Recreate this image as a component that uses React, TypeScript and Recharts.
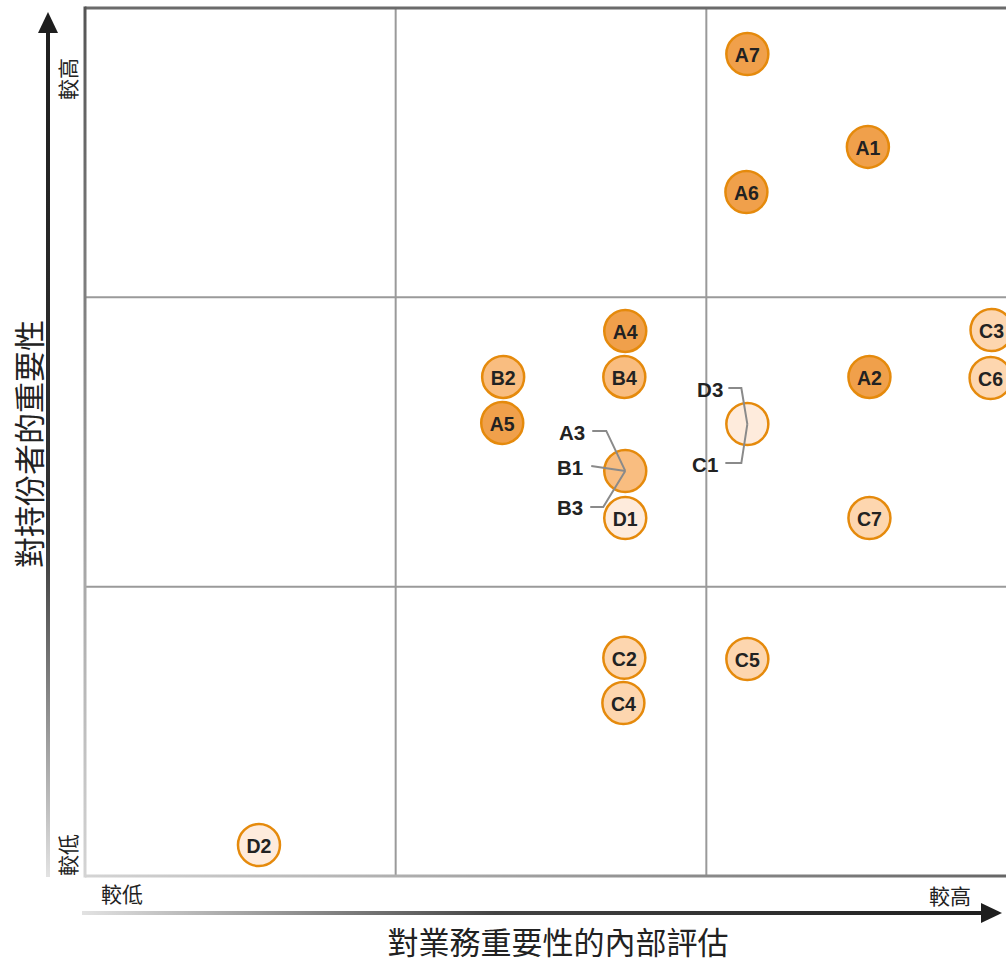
import React from 'react'
import { ScatterChart, Scatter, XAxis, YAxis, ReferenceLine } from 'recharts'

// bubble positions, both axes run 0..3 (three bands each)
const seriesA = [
  { id: 'A1', x: 2.52, y: 2.52 },
  { id: 'A2', x: 2.525, y: 1.725 },
  { id: 'A4', x: 1.739, y: 1.884 },
  { id: 'A5', x: 1.343, y: 1.566 },
  { id: 'A6', x: 2.129, y: 2.364 },
  { id: 'A7', x: 2.132, y: 2.841 },
]
const seriesB = [
  { id: 'B2', x: 1.346, y: 1.725 },
  { id: 'B4', x: 1.736, y: 1.725 },
]
const seriesC = [
  { id: 'C2', x: 1.736, y: 0.754 },
  { id: 'C3', x: 2.918, y: 1.887 },
  { id: 'C4', x: 1.733, y: 0.598 },
  { id: 'C5', x: 2.132, y: 0.75 },
  { id: 'C6', x: 2.915, y: 1.721 },
  { id: 'C7', x: 2.525, y: 1.237 },
]
const seriesD = [
  { id: 'D1', x: 1.739, y: 1.237 },
  { id: 'D2', x: 0.56, y: 0.107 },
]
// overlapping items share one bubble with callout labels
const clusterB = [{ ids: ['A3', 'B1', 'B3'], x: 1.739, y: 1.4 }]
const clusterD = [{ ids: ['D3', 'C1'], x: 2.132, y: 1.562 }]

const gridX = [1, 2]
const gridY = [1, 2]
const xEndLabels = ['較低', '較高']
const yEndLabels = ['較低', '較高']
const xTitle = '對業務重要性的內部評估'
const yTitle = '對持份者的重要性'

const COLORS = { A: '#f0a04b', B: '#f9bd80', C: '#fdd6af', D: '#feebdc' }
const STROKE = '#e58a0c'
const LABEL_FONT = '"Liberation Sans", Arial, sans-serif'
const CJK_FONT = '"Noto Sans CJK TC", "Noto Sans", sans-serif'

const W = 1030
const H = 962
const M = { top: 8, right: 13, left: 85, bottom: 86 }
const plotL = M.left
const plotR = W - M.right
const plotT = M.top
const plotB = H - M.bottom

// callout offsets relative to the bubble centre
const LEADERS: Record<string, { pts: number[][]; tx: number; ty: number }> = {
  A3: { pts: [[-33, -40], [-19, -40], [0, 0]], tx: -40, ty: -39 },
  B1: { pts: [[-34, -5], [0, 0]], tx: -42, ty: -4 },
  B3: { pts: [[-35, 36], [-22, 36], [0, 0]], tx: -42, ty: 36 },
  D3: { pts: [[-19, -36], [-6, -36], [0, 0]], tx: -24, ty: -36 },
  C1: { pts: [[-22, 39], [-6, 39], [0, 0]], tx: -29, ty: 39 },
}

function Bubble(props: any) {
  const { cx, cy, payload, fill } = props
  if (cx == null || cy == null) return null
  return (
    <g>
      <circle cx={cx} cy={cy} r={21} fill={fill} stroke={STROKE} strokeWidth={2.5} />
      <text
        x={cx}
        y={cy + 1}
        textAnchor="middle"
        dominantBaseline="central"
        fontFamily={LABEL_FONT}
        fontWeight="bold"
        fontSize={19.5}
        fill="#222"
      >
        {payload.id}
      </text>
    </g>
  )
}

function ClusterBubble(props: any) {
  const { cx, cy, payload, fill } = props
  if (cx == null || cy == null) return null
  return (
    <g>
      <circle cx={cx} cy={cy} r={21} fill={fill} stroke={STROKE} strokeWidth={2.5} />
      {payload.ids.map((id: string) => {
        const l = LEADERS[id]
        return (
          <g key={id}>
            <polyline
              points={l.pts.map((p) => `${cx + p[0]},${cy + p[1]}`).join(' ')}
              fill="none"
              stroke="#8a8a8a"
              strokeWidth={2}
            />
            <text
              x={cx + l.tx}
              y={cy + l.ty + 1}
              textAnchor="end"
              dominantBaseline="central"
              fontFamily={LABEL_FONT}
              fontWeight="bold"
              fontSize={20.5}
              fill="#222"
            >
              {id}
            </text>
          </g>
        )
      })}
    </g>
  )
}

function Decor() {
  const ax = 48
  const ay = 913
  return (
    <svg width={W} height={H} style={{ position: 'absolute', left: 0, top: 0 }}>
      <defs>
        <linearGradient id="gV" gradientUnits="userSpaceOnUse" x1={0} y1={plotT} x2={0} y2={plotB}>
          <stop offset="0" stopColor="#555" />
          <stop offset="1" stopColor="#d4d4d4" />
        </linearGradient>
        <linearGradient id="gH" gradientUnits="userSpaceOnUse" x1={plotL} y1={0} x2={1006} y2={0}>
          <stop offset="0" stopColor="#d4d4d4" />
          <stop offset="1" stopColor="#666" />
        </linearGradient>
        <linearGradient id="aV" gradientUnits="userSpaceOnUse" x1={0} y1={14} x2={0} y2={plotB}>
          <stop offset="0" stopColor="#1e1e1e" />
          <stop offset="0.6" stopColor="#333" />
          <stop offset="1" stopColor="#e2e2e2" />
        </linearGradient>
        <linearGradient id="aH" gradientUnits="userSpaceOnUse" x1={82} y1={0} x2={1000} y2={0}>
          <stop offset="0" stopColor="#e2e2e2" />
          <stop offset="0.45" stopColor="#444" />
          <stop offset="1" stopColor="#1e1e1e" />
        </linearGradient>
      </defs>
      {/* plot frame */}
      <line x1={plotL} y1={plotT} x2={plotR + 10} y2={plotT} stroke="#6b6b6b" strokeWidth={3} />
      <line x1={plotL} y1={plotT - 1.5} x2={plotL} y2={plotB + 1.5} stroke="url(#gV)" strokeWidth={3} />
      <line x1={plotL} y1={plotB} x2={plotR + 10} y2={plotB} stroke="url(#gH)" strokeWidth={3} />
      {/* axis arrows */}
      <line x1={ax} y1={plotB + 1} x2={ax} y2={30} stroke="url(#aV)" strokeWidth={4} />
      <polygon points={`${ax},12 ${ax - 10},33 ${ax + 10},33`} fill="#1e1e1e" />
      <line x1={82} y1={ay} x2={984} y2={ay} stroke="url(#aH)" strokeWidth={4} />
      <polygon points={`1002,${ay} 981,${ay - 10} 981,${ay + 10}`} fill="#1e1e1e" />
      {/* end labels */}
      <text x={67} y={855} transform="rotate(-90 67 855)" textAnchor="middle" dominantBaseline="central" fontFamily={CJK_FONT} fontSize={21} fill="#222">
        {yEndLabels[0]}
      </text>
      <text x={67} y={79} transform="rotate(-90 67 79)" textAnchor="middle" dominantBaseline="central" fontFamily={CJK_FONT} fontSize={21} fill="#222">
        {yEndLabels[1]}
      </text>
      <text x={122} y={893} textAnchor="middle" dominantBaseline="central" fontFamily={CJK_FONT} fontSize={21} fill="#222">
        {xEndLabels[0]}
      </text>
      <text x={950} y={895} textAnchor="middle" dominantBaseline="central" fontFamily={CJK_FONT} fontSize={21} fill="#222">
        {xEndLabels[1]}
      </text>
      {/* titles */}
      <text x={558} y={940} textAnchor="middle" dominantBaseline="central" fontFamily={CJK_FONT} fontSize={31} fill="#222">
        {xTitle}
      </text>
      <text x={27} y={444} transform="rotate(-90 27 444)" textAnchor="middle" dominantBaseline="central" fontFamily={CJK_FONT} fontSize={31} fill="#222">
        {yTitle}
      </text>
    </svg>
  )
}

export default function App() {
  return (
    <div style={{ position: 'fixed', left: 0, top: 0, width: 1006, height: 962, overflow: 'hidden', background: '#fff' }}>
      <div style={{ position: 'absolute', left: 0, top: 0, width: W, height: H }}>
        <ScatterChart width={W} height={H} margin={M}>
          <XAxis type="number" dataKey="x" domain={[0, 3]} hide />
          <YAxis type="number" dataKey="y" domain={[0, 3]} hide />
          {gridX.map((v) => (
            <ReferenceLine key={`x${v}`} x={v} stroke="#9a9a9a" strokeWidth={2} />
          ))}
          {gridY.map((v) => (
            <ReferenceLine key={`y${v}`} y={v} stroke="#9a9a9a" strokeWidth={2} />
          ))}
          <Scatter data={seriesA} isAnimationActive={false} shape={(p: any) => <Bubble {...p} fill={COLORS.A} />} />
          <Scatter data={seriesB} isAnimationActive={false} shape={(p: any) => <Bubble {...p} fill={COLORS.B} />} />
          <Scatter data={seriesC} isAnimationActive={false} shape={(p: any) => <Bubble {...p} fill={COLORS.C} />} />
          <Scatter data={seriesD} isAnimationActive={false} shape={(p: any) => <Bubble {...p} fill={COLORS.D} />} />
          <Scatter data={clusterB} isAnimationActive={false} shape={(p: any) => <ClusterBubble {...p} fill={COLORS.B} />} />
          <Scatter data={clusterD} isAnimationActive={false} shape={(p: any) => <ClusterBubble {...p} fill={COLORS.D} />} />
        </ScatterChart>
        <Decor />
      </div>
    </div>
  )
}
